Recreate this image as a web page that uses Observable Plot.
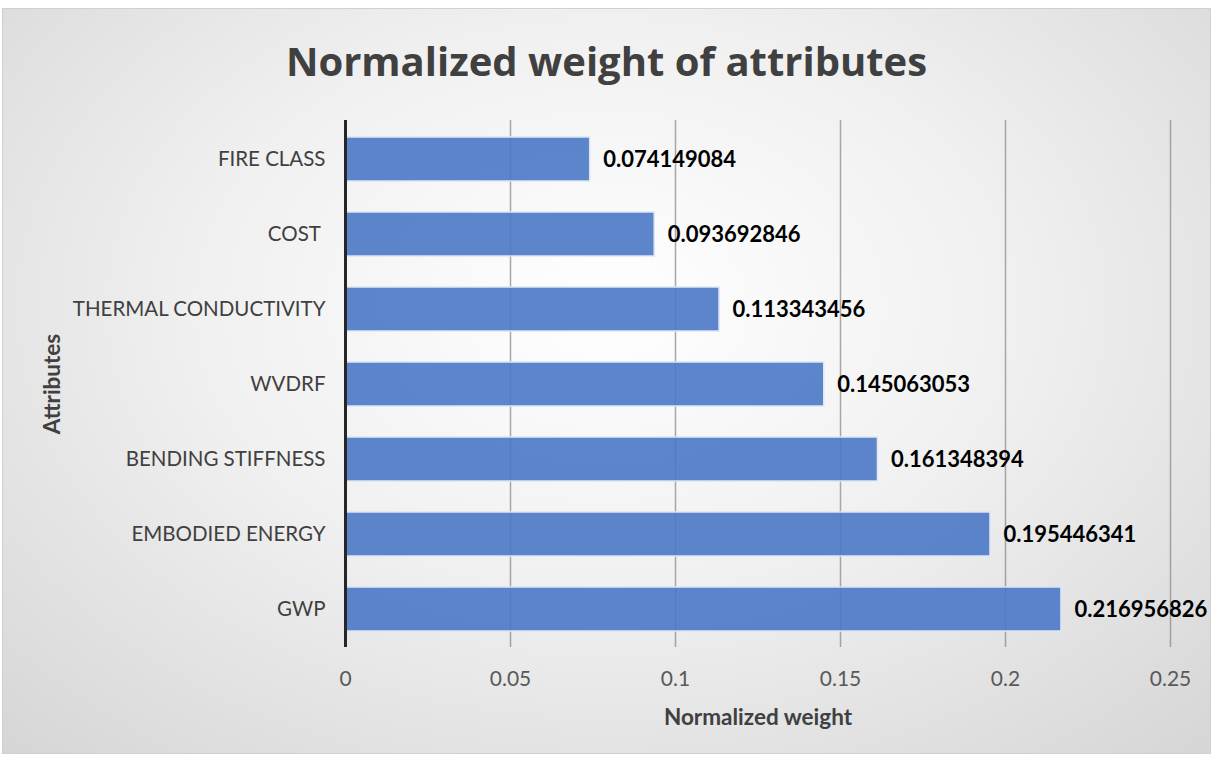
<!DOCTYPE html>
<html>
<head>
<meta charset="utf-8">
<script src="https://cdn.jsdelivr.net/npm/d3@7"></script>
<script src="https://cdn.jsdelivr.net/npm/@observablehq/plot@0.6"></script>
<style>
  html, body { margin: 0; padding: 0; background: #ffffff; }
  #frame {
    position: absolute; left: 2px; top: 8px; width: 1209px; height: 746px;
    border: 1px solid #d0d0d0; box-sizing: border-box;
    background: radial-gradient(ellipse 75% 85% at 50% 40%, #ffffff 0%, #f0f0f0 45%, #d4d4d4 100%);
    font-family: Lato, "Open Sans", sans-serif; overflow: hidden;
  }
  #title {
    position: absolute; left: 0; top: 0; width: 100%; height: 95px;
    text-align: center; font-size: 40px; font-weight: bold; color: #404040;
    line-height: 104px; font-family: "Open Sans", Lato, sans-serif;
  }
  #chart { position: absolute; left: 0; top: 95px; }
</style>
</head>
<body>
<div id="frame">
  <div id="title">Normalized weight of attributes</div>
  <div id="chart"></div>
</div>
<script>
const categories = ["FIRE CLASS", "COST\u00a0", "THERMAL CONDUCTIVITY", "WVDRF", "BENDING STIFFNESS", "EMBODIED ENERGY", "GWP"];
const weights = [0.074149084, 0.093692846, 0.113343456, 0.145063053, 0.161348394, 0.195446341, 0.216956826];
const valueLabels = ["0.074149084", "0.093692846", "0.113343456", "0.145063053", "0.161348394", "0.195446341", "0.216956826"];
const xTicks = [0, 0.05, 0.1, 0.15, 0.2, 0.25];
const xTickLabels = ["0", "0.05", "0.1", "0.15", "0.2", "0.25"];

const data = categories.map((c, i) => ({cat: c, w: weights[i], label: valueLabels[i]}));

const plot = Plot.plot({
  width: 1207,
  height: 652,
  marginTop: 16,
  marginBottom: 109,
  marginLeft: 342,
  marginRight: 40,
  style: {background: "transparent", fontFamily: "Lato, 'Open Sans', sans-serif"},
  x: {domain: [0, 0.25], ticks: xTicks, label: null},
  y: {domain: categories, paddingInner: 0.42, paddingOuter: 0.21, label: null},
  marks: [
    Plot.ruleX(xTicks.slice(1), {stroke: "#8c8c8c", strokeWidth: 1.5, strokeOpacity: 0.75}),
    Plot.barX(data, {x: "w", y: "cat", fill: "#4a78c6", fillOpacity: 0.9, stroke: "#dce6f5", strokeWidth: 1.5}),
    Plot.text(data, {x: "w", y: "cat", text: "label", dx: 13, textAnchor: "start", fontWeight: "bold", fontSize: 22, fill: "#000000"}),
    Plot.ruleX([0], {stroke: "#262626", strokeWidth: 3}),
    Plot.axisX({ticks: xTicks, tickFormat: (d) => xTickLabels[xTicks.indexOf(d)], tickSize: 0, tickPadding: 24, fontSize: 21, color: "#595959", label: null}),
    Plot.axisY({tickSize: 0, tickPadding: 20, fontSize: 20.5, color: "#404040", label: null}),
    Plot.text(["Normalized weight"], {frameAnchor: "bottom", dy: 77, fontWeight: "bold", fontSize: 22.5, fill: "#404040"}),
    Plot.text(["Attributes"], {frameAnchor: "left", dx: -293, rotate: -90, textAnchor: "middle", fontWeight: "bold", fontSize: 22.5, fill: "#404040"})
  ]
});
document.getElementById("chart").appendChild(plot);
</script>
</body>
</html>
